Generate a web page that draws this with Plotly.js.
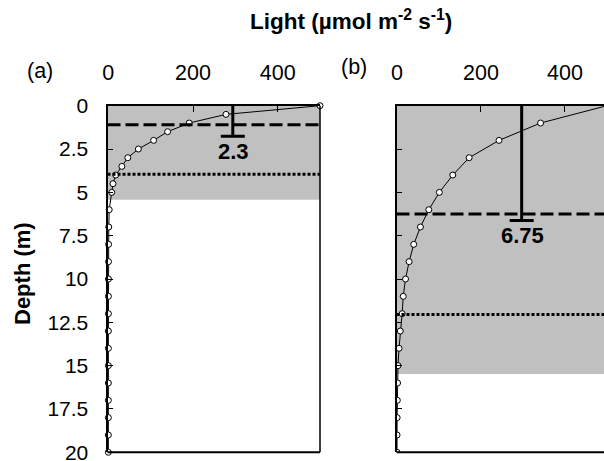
<!DOCTYPE html>
<html>
<head>
<meta charset="utf-8">
<script src="https://cdn.plot.ly/plotly-3.0.1.min.js"></script>
<style>
html,body{margin:0;padding:0;background:#fff;overflow:hidden;}
#chart{width:604px;height:461px;}
</style>
</head>
<body>
<div id="chart"></div>
<script>
// ---- data ----
var depthA = [0,0.5,1,1.5,2,2.5,3,3.5,4,4.5,5,6,7,8,9,10,11,12,13,14,15,16,17,18,19,20];
var lightA = [500,278,191,140,107,71,46,32,17.5,11,8,2,1,0.6,0.4,0.3,0.2,0.2,0.1,0.1,0.1,0.1,0,0,0,0];
var depthB = [0,1,2,3,4,5,6,7,8,9,10,11,12,13,14,15,16,17,18,19,20];
var lightB = [500,342,243,172,133,101,76,56,40,29,20.5,15,12.5,8,5,2.5,1.5,1,0.5,0.3,0.2];

var dashedDepth = [1.1, 6.25];     // dashed line depths (a, b)
var dottedDepth = [3.95, 12.05];   // dotted line depths (a, b)
var shadeDepth  = [5.42, 15.48];   // bottom of grey shading (a, b)
var barLight    = [294, 297];      // x position of bar (a, b)
var barDepth    = [1.77, 6.63];    // bar end depth (a, b)
var barLabels   = ['2.3', '6.75'];
var panelLabels = ['(a)', '(b)'];

var xTickVals = [0, 200, 400];
var xTickText = ['0', '200', '400'];
var yTickVals = [0, 2.5, 5, 7.5, 10, 12.5, 15, 17.5, 20];
var yTickText = ['0', '2.5', '5', '7.5', '10', '12.5', '15', '17.5', '20'];

// ---- layout ----
var W = 604, H = 461;
var FONT = 'Liberation Sans, Arial, sans-serif';
var yTopPx = 105.7, yBotPx = 452.3;
var yDom = [1 - yBotPx / H, 1 - yTopPx / H];
var xDomA = [107.5 / W, 320 / W];
var xDomB = [396.5 / W, 1];

function lineTrace(x, y, xa, ya) {
  return {
    x: x, y: y, xaxis: xa, yaxis: ya, type: 'scatter', mode: 'lines+markers',
    cliponaxis: false,
    line: {color: '#000', width: 1},
    marker: {size: 6, color: '#fff', line: {color: '#000', width: 1}},
    hoverinfo: 'skip', showlegend: false
  };
}

var data = [
  lineTrace(lightA, depthA, 'x', 'y'),
  lineTrace(lightB, depthB, 'x2', 'y2')
];
// panel (b) surface point lies outside the visible range; clip that trace
data[1].cliponaxis = true;

var xCommon = {
  side: 'top', tickvals: xTickVals, ticktext: xTickText,
  ticks: 'inside', ticklen: 6, tickwidth: 1, tickcolor: '#000',
  showline: true, linecolor: '#000', linewidth: 2, mirror: false,
  showgrid: false, zeroline: false, fixedrange: true,
  ticklabelstandoff: 15, ticklabeloverflow: 'allow',
  tickfont: {family: FONT, size: 21.5, color: '#000'}
};
var yCommon = {
  range: [20, 0], autorange: false, domain: yDom, tickvals: yTickVals, ticktext: yTickText,
  ticks: 'inside', ticklen: 5, tickwidth: 1, tickcolor: '#000',
  showline: true, linecolor: '#000', linewidth: 2, mirror: false,
  showgrid: false, zeroline: false, fixedrange: true,
  ticklabelstandoff: 13, ticklabeloverflow: 'allow',
  tickfont: {family: FONT, size: 21, color: '#000'}
};

var layout = {
  width: W, height: H,
  margin: {l: 0, r: 0, t: 0, b: 0},
  paper_bgcolor: '#fff', plot_bgcolor: 'rgba(0,0,0,0)',
  showlegend: false,
  xaxis: Object.assign({}, xCommon, {domain: xDomA, range: [-2, 500], autorange: false, anchor: 'y'}),
  yaxis: Object.assign({}, yCommon, {anchor: 'x'}),
  xaxis2: Object.assign({}, xCommon, {domain: xDomB, range: [-1, 493], autorange: false, anchor: 'y2'}),
  yaxis2: Object.assign({}, yCommon, {anchor: 'x2', showticklabels: false}),
  shapes: [],
  annotations: []
};

var axes = [['x', 'y'], ['x2', 'y2']];
var doms = [xDomA, xDomB];
for (var i = 0; i < 2; i++) {
  var xa = axes[i][0], ya = axes[i][1];
  // grey shading
  layout.shapes.push({type: 'rect', layer: 'below', xref: xa + ' domain', yref: ya,
    x0: 0, x1: 1, y0: 0, y1: shadeDepth[i], fillcolor: '#c0c0c0', line: {width: 0}});
  // dashed line
  layout.shapes.push({type: 'line', layer: 'above', xref: xa + ' domain', yref: ya,
    x0: 0, x1: 1, y0: dashedDepth[i], y1: dashedDepth[i],
    line: {color: '#000', width: 3, dash: '13px,5px'}});
  // dotted line
  layout.shapes.push({type: 'line', layer: 'above', xref: xa + ' domain', yref: ya,
    x0: 0, x1: 1, y0: dottedDepth[i], y1: dottedDepth[i],
    line: {color: '#000', width: 3, dash: '3px,2px'}});
  // vertical bar
  layout.shapes.push({type: 'line', layer: 'above', xref: xa, yref: ya,
    x0: barLight[i], x1: barLight[i], y0: 0, y1: barDepth[i],
    line: {color: '#000', width: 3}});
  // cap
  layout.shapes.push({type: 'line', layer: 'above', xref: xa, yref: ya,
    xsizemode: 'pixel', xanchor: barLight[i], x0: -12, x1: 12,
    y0: barDepth[i], y1: barDepth[i], line: {color: '#000', width: 3}});
  // bottom frame line
  layout.shapes.push({type: 'line', layer: 'above', xref: 'paper', yref: 'paper',
    x0: doms[i][0], x1: doms[i][1], y0: yDom[0], y1: yDom[0],
    line: {color: '#000', width: 2}});
  // bar label
  layout.annotations.push({xref: xa, yref: ya, x: barLight[i], y: barDepth[i],
    xanchor: 'center', yanchor: 'middle', yshift: -15, xshift: 1, showarrow: false,
    text: '<b>' + barLabels[i] + '</b>', font: {family: FONT, size: 22, color: '#000'}});
}
// right frame line of panel (a)
layout.shapes.push({type: 'line', layer: 'above', xref: 'paper', yref: 'paper',
  x0: xDomA[1], x1: xDomA[1], y0: yDom[0], y1: yDom[1], line: {color: '#000', width: 1.5}});

// panel labels
layout.annotations.push({xref: 'paper', yref: 'paper', x: 40 / W, y: 1 - 71 / H,
  xanchor: 'center', yanchor: 'middle', showarrow: false, text: panelLabels[0],
  font: {family: FONT, size: 21.5, color: '#000'}});
layout.annotations.push({xref: 'paper', yref: 'paper', x: 354 / W, y: 1 - 67 / H,
  xanchor: 'center', yanchor: 'middle', showarrow: false, text: panelLabels[1],
  font: {family: FONT, size: 21.5, color: '#000'}});

// titles
layout.annotations.push({xref: 'paper', yref: 'paper', x: 350.5 / W, y: 1 - 20 / H,
  xanchor: 'center', yanchor: 'middle', showarrow: false,
  text: '<b>Light (µmol m<sup>-2</sup> s<sup>-1</sup>)</b>',
  font: {family: FONT, size: 22.5, color: '#000'}});
layout.annotations.push({xref: 'paper', yref: 'paper', x: 22 / W, y: 1 - 274 / H,
  xanchor: 'center', yanchor: 'middle', showarrow: false, textangle: -90,
  text: '<b>Depth (m)</b>', font: {family: FONT, size: 22, color: '#000'}});

Plotly.newPlot('chart', data, layout, {staticPlot: true, displayModeBar: false});
</script>
</body>
</html>
